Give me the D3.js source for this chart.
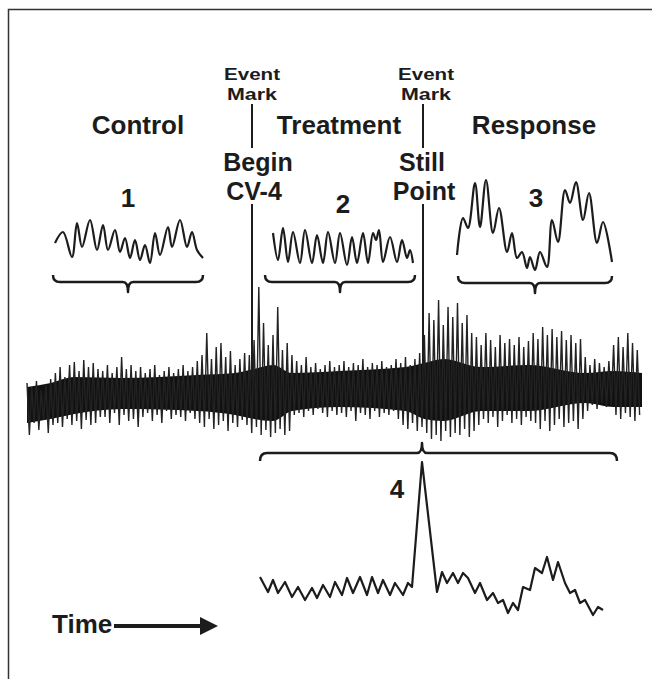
<!DOCTYPE html>
<html><head><meta charset="utf-8">
<script src="https://cdn.jsdelivr.net/npm/d3@7"></script>
<style>
body{margin:0;background:#fff}
svg{display:block}
text{font-family:"Liberation Sans",Arial,sans-serif;font-weight:bold;fill:#1c1c1c}
</style>
</head><body><svg id="c" width="652" height="679"></svg>
<script>
// ---------- DATA ----------
const phaseLabels = ["Control", "Treatment", "Response"];
const eventLabels = [["Begin", "CV-4"], ["Still", "Point"]];
const insetLabels = ["1", "2", "3", "4"];

// main (compressed) trace: one peak and one trough per cycle, amplitude units
const mainPeaks = [
  12, 8, 14, 5, 10, 16,
  22, 28, 18, 30, 33, 24, 35, 28, 32, 26,
  24, 30, 22, 28, 38, 26, 30, 24, 28, 22, 26, 30, 20, 24, 28, 22, 26, 30, 24, 28,
  34, 40, 62, 36, 48, 52, 38, 44, 30, 36, 42,
  40, 55,
  108, 72, 50, 60, 88, 45, 52,
  40, 34, 30, 38, 28, 32, 26, 30, 34, 28,
  30, 34, 28, 32, 30, 36, 28, 32, 30, 34, 28, 30, 36, 32,
  38, 30, 36, 42,
  60, 82, 75, 95, 70, 88, 78, 92, 72, 80, 62,
  58, 50, 62, 55, 48, 60, 52, 56, 50, 58, 48, 54,
  62, 56, 68, 60, 66, 58, 64, 55, 60, 52, 56,
  38, 30, 36, 32, 28, 34,
  50, 58, 48, 62, 52, 45
];
const mainTroughs = [
  -40, -28, -35, -25, -38, -30,
  -28, -32, -24, -30, -26, -34, -25, -30, -28, -22,
  -22, -28, -18, -30, -20, -26, -24, -32, -22, -18, -26, -20, -28, -16, -24, -20, -22, -26, -18, -24,
  -28, -32, -24, -34, -30, -26, -36, -28, -32, -25, -30,
  -38, -32,
  -40, -35, -42, -38, -34, -40, -36,
  -20, -18, -22, -16, -20, -14, -18, -22, -16, -20,
  -18, -22, -16, -26, -18, -20, -24, -16, -22, -18, -20, -16, -24, -30,
  -34, -28, -36, -32,
  -38, -44, -40, -46, -36, -42, -38, -40, -34, -42, -36,
  -30, -24, -28, -22, -32, -26, -20, -28, -24, -30, -22, -26,
  -28, -34, -26, -36, -30, -24, -32, -28, -26, -34, -24,
  -16, -10, -14, -8, -12, -10,
  -20, -24, -18, -22, -26, -20
];
// dense core envelope of the main trace
const coreT   = [0, 5, 10, 20, 36, 44, 48, 52, 56, 66, 80, 84, 88, 96, 106, 118, 124, 130];
const coreTop = [8, 12, 18, 17, 20, 22, 26, 30, 22, 24, 28, 32, 36, 28, 30, 22, 24, 22];
const coreBot = [-28, -24, -19, -14, -16, -20, -24, -26, -16, -12, -16, -24, -26, -16, -16, -8, -12, -12];

// expanded insets: time (samples) and amplitude
const inset1T = [2,10,19,24,29,37,44,50,55,62,67,72,77,82,87,92,97,102,107,115,119,127,134,139,144,150];
const inset1V = [22,33,8,42,18,45,15,40,15,35,13,27,7,25,5,20,2,32,10,38,18,45,18,33,15,7];

const inset2T = [0,5,10,15,20,27,32,39,44,50,55,62,67,74,79,84,90,95,100,103,106,110,117,124,129,134,137,140];
const inset2V = [35,8,40,6,36,5,38,5,33,5,36,5,35,3,31,5,35,5,35,28,38,6,31,6,28,10,18,5];

const inset3T = [0,6,11,18,23,29,36,42,50,55,60,65,70,73,78,83,90,95,101,108,113,119,126,132,140,146,155];
const inset3V = [17,54,44,89,45,92,39,64,20,39,14,20,4,15,2,20,5,52,30,82,69,90,52,79,29,50,10];

const inset4T = [0,8,13,18,25,32,38,45,52,57,63,70,75,82,87,93,100,107,112,118,123,130,135,143,148,152,162,177,182,187,193,198,203,208,215,220,227,233,238,243,248,253,258,263,270,275,282,287,293,298,305,310,315,320,325,333,338,343];
const inset4V = [38,23,35,22,33,18,28,15,27,17,30,18,33,20,37,22,38,20,38,22,35,20,32,20,32,28,153,23,43,32,42,32,42,37,22,32,15,22,12,15,2,12,5,28,25,47,42,58,35,53,32,22,25,12,15,0,8,5];

// ---------- DRAWING ----------
const svg = d3.select("#c");
const ink = "#1c1c1c";

// frame
svg.append("path").attr("d", "M8.5,679 L8.5,9.5 L652,9.5")
  .attr("fill", "none").attr("stroke", "#333").attr("stroke-width", 1.5);

// main trace
const xMain = d3.scaleLinear().domain([0, 130]).range([27, 642]);
const yMain = d3.scaleLinear().domain([-100, 110]).range([495, 285]);

const core = coreT.map((t, i) => ({t, top: coreTop[i], bot: coreBot[i]}));
svg.append("path").datum(core)
  .attr("d", d3.area().x(d => xMain(d.t)).y0(d => yMain(d.bot)).y1(d => yMain(d.top)).curve(d3.curveMonotoneX))
  .attr("fill", "#111");

const zig = [];
mainPeaks.forEach((p, i) => { zig.push({t: i, v: p}); zig.push({t: i + 0.5, v: mainTroughs[i]}); });
svg.append("path").datum(zig)
  .attr("d", d3.line().x(d => xMain(d.t)).y(d => yMain(d.v)))
  .attr("fill", "none").attr("stroke", "#222").attr("stroke-width", 1.4);

// insets
function inset(T, V, x0, yBase, curve) {
  const xs = d3.scaleLinear().domain([0, 100]).range([x0, x0 + 100]);
  const ys = d3.scaleLinear().domain([0, 100]).range([yBase, yBase - 100]);
  svg.append("path").datum(T.map((t, i) => [t, V[i]]))
    .attr("d", d3.line().x(d => xs(d[0])).y(d => ys(d[1])).curve(curve))
    .attr("fill", "none").attr("stroke", ink).attr("stroke-width", 2.2)
    .attr("stroke-linejoin", "round");
}
inset(inset1T, inset1V, 53, 265, d3.curveCatmullRom.alpha(0.5));
inset(inset2T, inset2V, 273, 268, d3.curveCatmullRom.alpha(0.5));
inset(inset3T, inset3V, 457, 272, d3.curveCatmullRom.alpha(0.5));
inset(inset4T, inset4V, 260, 615, d3.curveLinear);

// braces
function brace(x1, x2, xc, y, h, d) {
  const r = 7, r2 = 5;
  const p = `M${x1},${y - h} Q${x1},${y} ${x1 + r},${y} L${xc - r2},${y} Q${xc},${y} ${xc},${y + d} Q${xc},${y} ${xc + r2},${y} L${x2 - r},${y} Q${x2},${y} ${x2},${y - h}`;
  svg.append("path").attr("d", p).attr("fill", "none").attr("stroke", ink)
    .attr("stroke-width", 2.5).attr("stroke-linejoin", "round");
}
brace(53, 203, 128, 282, 7, 10);
brace(265, 415, 340, 282, 7, 10);
brace(458, 612, 535, 283, 7, 10);
brace(260, 617, 422, 453, -8, -10);

// event marks
[[252, 252], [423, 426]].forEach(([xl, xt]) => {
  svg.append("line").attr("x1", xl).attr("x2", xl).attr("y1", 104).attr("y2", 148)
    .attr("stroke", ink).attr("stroke-width", 2);
  svg.append("line").attr("x1", xl).attr("x2", xl).attr("y1", 204).attr("y2", 380)
    .attr("stroke", ink).attr("stroke-width", 2);
  svg.append("text").attr("x", xt).attr("y", 80).attr("text-anchor", "middle")
    .attr("font-size", 17).attr("textLength", 56).attr("lengthAdjust", "spacingAndGlyphs").text("Event");
  svg.append("text").attr("x", xt).attr("y", 100).attr("text-anchor", "middle")
    .attr("font-size", 17).attr("textLength", 50).attr("lengthAdjust", "spacingAndGlyphs").text("Mark");
});

// phase labels
[[138, phaseLabels[0]], [339, phaseLabels[1]], [534, phaseLabels[2]]].forEach(([x, t]) => {
  svg.append("text").attr("x", x).attr("y", 134).attr("text-anchor", "middle")
    .attr("font-size", 26).text(t);
});

// event labels
[[258, 254, eventLabels[0]], [422, 424, eventLabels[1]]].forEach(([x1, x2, l]) => {
  svg.append("text").attr("x", x1).attr("y", 171).attr("text-anchor", "middle").attr("font-size", 25).text(l[0]);
  svg.append("text").attr("x", x2).attr("y", 200).attr("text-anchor", "middle").attr("font-size", 25).text(l[1]);
});

// inset numbers
[[128, 207], [343, 213], [536, 207], [397, 498]].forEach(([x, y], i) => {
  svg.append("text").attr("x", x).attr("y", y).attr("text-anchor", "middle")
    .attr("font-size", 26).text(insetLabels[i]);
});

// time arrow
svg.append("text").attr("x", 52).attr("y", 633).attr("font-size", 26).text("Time");
svg.append("line").attr("x1", 114).attr("x2", 204).attr("y1", 626).attr("y2", 626)
  .attr("stroke", ink).attr("stroke-width", 4);
svg.append("path").attr("d", "M200,617 L218,626 L200,635 Z").attr("fill", ink);
</script></body></html>
